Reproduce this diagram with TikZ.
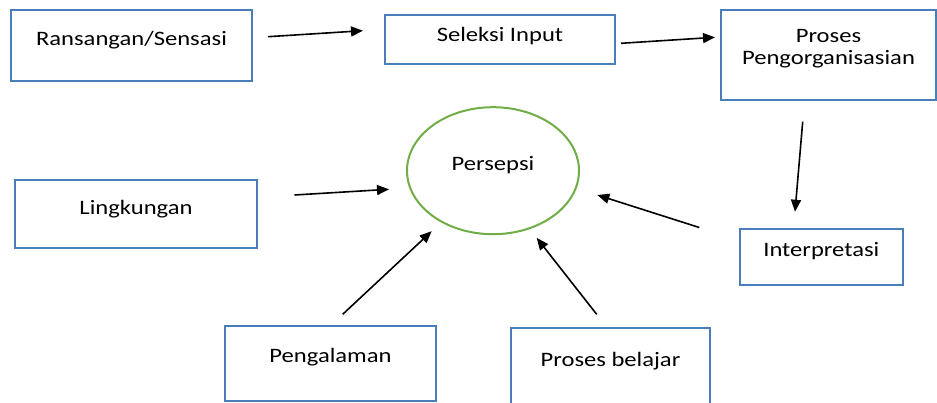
\documentclass[tikz,border=0pt]{standalone}
\usepackage{fontspec}
\setmainfont{Carlito}[FakeStretch=1.2]
\usetikzlibrary{arrows.meta, positioning, shapes.geometric}
\definecolor{frameblue}{HTML}{4A7EBB}
\definecolor{ovalgreen}{HTML}{70AD47}

\begin{document}
\begin{tikzpicture}[x=1pt, y=-1pt, font=\fontsize{20.5}{21.6}\selectfont]
        \def\colorframe{frameblue}
        \def\colorpersepsi{ovalgreen}
        \tikzset{factor/.style={draw,
                align=center,
                line width = 2pt,
                draw = \colorframe,
                inner sep = 0pt,
                outer sep = 0pt
        }}
        \tikzset{central/.style={ellipse,
                draw,
                line width = 2pt,
                draw = \colorpersepsi,
                inner sep = 0pt,
                outer sep = 0pt,
                minimum width = 172pt,
                minimum height = 127pt,
                text height = 12pt,
                text depth = 12pt
        }}
        \tikzset{connector/.style={-{Triangle[length=12pt,width=10pt]}, line width = 1.6pt}}

        \useasboundingbox (0,0) rectangle (937,403);

        \node[factor, minimum width = 241pt, text height = 35.7pt, text depth = 35.3pt] (ransangan) at (131.5,45.5) {Ransangan/Sensasi};
        \node[factor, minimum width = 230pt, text height = 26.7pt, text depth = 22.3pt] (seleksi) at (500,39.5) {Seleksi Input};
        \node[factor, minimum width = 215pt, text height = 54.3pt, text depth = 35.7pt] (proses) at (828.5,55) {Proses\\Pengorganisasian};
        \node[central] (persepsi) at (493,170.7) {Persepsi};
        \node[factor, minimum width = 242pt, text height = 34.3pt, text depth = 33.7pt] (lingkungan) at (136,214) {Lingkungan};
        \node[factor, minimum width = 162.7pt, text height = 27.4pt, text depth = 28.3pt] (interpretasi) at (821.3,257.2) {Interpretasi};
        \node[factor, minimum width = 211pt, text height = 36.7pt, text depth = 38.3pt] (pengalaman) at (330.5,363.5) {Pengalaman};
        \node[factor, minimum width = 199pt, text height = 38.4pt, text depth = 41.3pt] (belajar) at (610.5,368.2) {Proses belajar};

        \draw[connector] ([xshift=16pt,yshift=8.8pt]ransangan.east) -- ([xshift=-22pt,yshift=8.8pt]seleksi.west);
        \draw[connector] ([xshift=6pt,yshift=-3.8pt]seleksi.east) -- ([xshift=-6pt,yshift=17.7pt]proses.west);
        \draw[connector] ([xshift=-25.8pt,yshift=-21.7pt]proses.south) -- ([xshift=-26.3pt,yshift=17.6pt]interpretasi.north);
        \draw[connector] ([xshift=-40.7pt,yshift=29.7pt]interpretasi.west) -- ([xshift=18.3pt,yshift=-24.3pt]persepsi.east);
        \draw[connector] ([xshift=37.5pt,yshift=19pt]lingkungan.east) -- ([xshift=-18pt,yshift=-18.6pt]persepsi.west);
        \draw[connector] ([xshift=12.2pt,yshift=11.7pt]pengalaman.north) -- ([xshift=-61.3pt,yshift=3pt]persepsi.south);
        \draw[connector] ([xshift=-13.8pt,yshift=14pt]belajar.north) -- ([xshift=43.7pt,yshift=-3.7pt]persepsi.south);
\end{tikzpicture}
\end{document}
